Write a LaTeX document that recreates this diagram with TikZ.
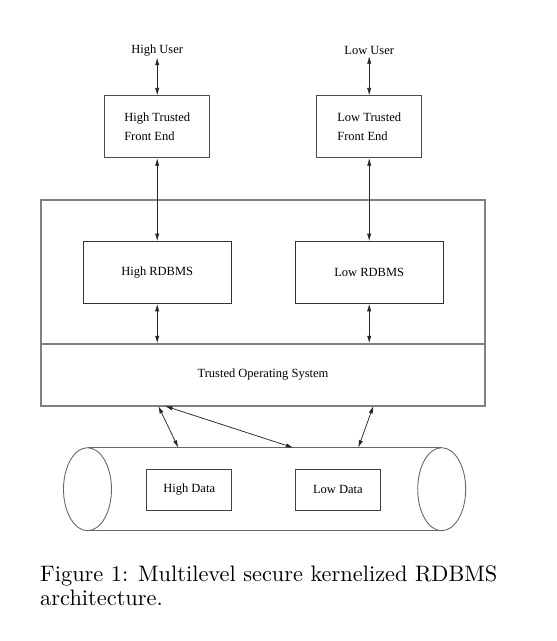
\documentclass[tikz,border=0pt]{standalone}
\usepackage{fontspec}
\setmainfont{Liberation Serif}
\newfontfamily\capfont{lmroman10-regular.otf}
\usetikzlibrary{arrows.meta}

\tikzset{
    >={Latex[length=6pt,width=3.4pt]},
    link/.style={<->, line width=0.6pt, black!85},
    frontbox/.style={draw=black!70, line width=0.8pt, inner sep=0pt,
        minimum width=84.4pt, minimum height=49.4pt, align=left,
        font=\fontsize{10}{15.6}\selectfont},
    dbmsbox/.style={draw=black!80, line width=0.8pt, inner sep=0pt,
        minimum width=118.4pt, minimum height=49.3pt},
    kernelbox/.style={draw=black!50, line width=1.2pt, inner sep=0pt,
        minimum width=355.2pt},
    databox/.style={draw=black!75, line width=0.8pt, inner sep=0pt,
        minimum width=68pt, minimum height=32.8pt},
    drum/.style={draw=black!60, line width=0.7pt},
}

\begin{document}
\begin{tikzpicture}[x=0.8pt, y=-0.8pt]
    \useasboundingbox (0,0) rectangle (557,641);
    % users and front ends
    \node[inner sep=1pt] (hu)  at (157.2, 50.5) {High User};
    \node[inner sep=1pt] (lu)  at (369.2, 50.5) {Low User};
    \node[frontbox]      (hfe) at (157.2, 126.8) {High Trusted\\Front End};
    \node[frontbox]      (lfe) at (369.2, 126.8) {Low Trusted\\Front End};
    % kernelized part
    \node[kernelbox, minimum height=164.8pt] (tcb) at (263, 303) {};
    \node[kernelbox, minimum height=49.6pt]  (os)  at (263, 375) {Trusted Operating System};
    \node[dbmsbox] (hdb) at (157.2, 272.5) {High RDBMS};
    \node[dbmsbox] (ldb) at (369.2, 272.5) {Low RDBMS};
    % storage
    \coordinate (dbl) at (87.5, 489.2);
    \coordinate (dbr) at (441.7, 489.2);
    \draw[drum] (dbl) ellipse [x radius=19.2pt, y radius=33.2pt];
    \draw[drum] (dbr) ellipse [x radius=19.2pt, y radius=33.2pt];
    \draw[drum] ([yshift=33.2pt]dbl) -- ([yshift=33.2pt]dbr);
    \draw[drum] ([yshift=-33.2pt]dbl) -- ([yshift=-33.2pt]dbr);
    \node[databox] (hd) at (189.2, 489.5) {High Data};
    \node[databox] (ld) at (337.9, 489.5) {Low Data};
    \coordinate (os1) at (158.3, 406);
    \coordinate (os2) at (165, 406);
    \coordinate (os3) at (373.3, 406);
    \coordinate (dt1) at (178.3, 447.7);
    \coordinate (dt2) at (293.3, 447.7);
    \coordinate (dt3) at (358.3, 447.7);
    % connectors
    \draw[link] (hu) -- (hfe);
    \draw[link] (lu) -- (lfe);
    \draw[link] (hfe) -- (hdb);
    \draw[link] (lfe) -- (ldb);
    \draw[link] (hdb.south) -- (hdb.south |- os.north);
    \draw[link] (ldb.south) -- (ldb.south |- os.north);
    \draw[link] (os1) -- (dt1);
    \draw[link] (os2) -- (dt2);
    \draw[link] (os3) -- (dt3);
    % caption
    \node[anchor=base west, inner sep=0pt, align=left,
        font={\fontsize{17.9}{18.6}\capfont}] (caption) at (40, 605)
        {Figure 1: Multilevel secure kernelized RDBMS\\architecture.};
\end{tikzpicture}
\end{document}
